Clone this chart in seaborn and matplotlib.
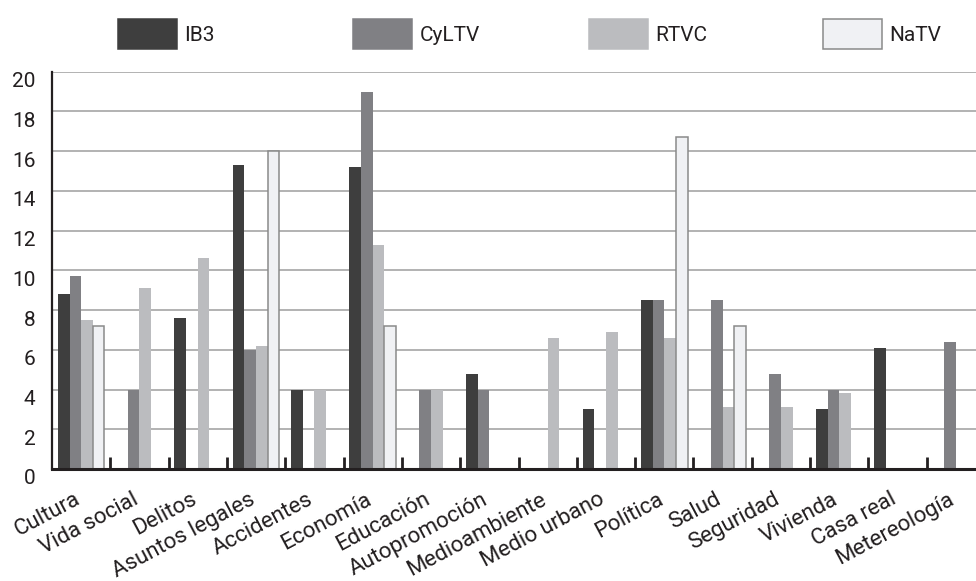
import pandas as pd
import matplotlib.pyplot as plt
import matplotlib.transforms as mtransforms
from matplotlib.patches import Patch
from matplotlib.ticker import FixedLocator
import seaborn as sns

# --- data ---
temas = ["Cultura", "Vida social", "Delitos", "Asuntos legales", "Accidentes",
         "Economía", "Educación", "Autopromoción", "Medioambiente", "Medio urbano",
         "Política", "Salud", "Seguridad", "Vivienda", "Casa real", "Metereología"]
canales = ["IB3", "CyLTV", "RTVC", "NaTV"]
ib3 = [8.8, 0, 7.6, 15.3, 4, 15.2, 0, 4.8, 0, 3.0, 8.5, 0, 0, 3.0, 6.1, 0]
cyltv = [9.7, 4, 0, 6, 0, 19, 4, 4, 0, 0, 8.5, 8.5, 4.8, 4, 0, 6.4]
rtvc = [7.5, 9.1, 10.6, 6.2, 4, 11.3, 4, 0, 6.6, 6.9, 6.6, 3.1, 3.1, 3.8, 0, 0]
natv = [7.2, 0, 0, 16, 0, 7.2, 0, 0, 0, 0, 16.7, 7.2, 0, 0, 0, 0]
yticks = list(range(0, 21, 2))

colores = ["#3e3e3e", "#808084", "#bbbcbf", "#f0f1f4"]
texto = "#231f20"

df = pd.DataFrame({"tema": temas * 4,
                   "canal": [c for c in canales for _ in temas],
                   "valor": ib3 + cyltv + rtvc + natv})

sns.set_theme(style="white")
plt.rcParams["font.family"] = ["Roboto", "DejaVu Sans"]

fig = plt.figure(figsize=(9.76, 5.81), dpi=100)
ax = fig.add_axes([0.0533, 0.1928, 0.9559, 0.6838])

sns.barplot(data=df, x="tema", y="valor", hue="canal", order=temas, hue_order=canales,
            palette=colores, width=0.8, saturation=1, legend=False, ax=ax)

for i, cont in enumerate(ax.containers):
    for bar in cont:
        if canales[i] == "NaTV":
            bar.set_edgecolor("#8a8a8a")
            bar.set_linewidth(1.1)
        else:
            bar.set_edgecolor("none")

ax.set_xlim(-0.5, len(temas) - 0.5)
ax.set_ylim(0, 20)
ax.set_yticks(yticks)
ax.set_xlabel("")
ax.set_ylabel("")

ax.yaxis.grid(True, color="#adadad", linewidth=1.3)
ax.set_axisbelow(True)
for s in ["top", "right"]:
    ax.spines[s].set_visible(False)
ax.spines["left"].set_color(texto)
ax.spines["left"].set_linewidth(1.6)
ax.spines["bottom"].set_color(texto)
ax.spines["bottom"].set_linewidth(2.2)

# small separator ticks between the groups
ax.xaxis.set_minor_locator(FixedLocator([k + 0.5 for k in range(len(temas))]))
ax.tick_params(axis="x", which="minor", direction="in", length=9, width=2,
               color=texto, bottom=True)
ax.tick_params(axis="x", which="major", length=0, pad=24.5)
ax.tick_params(axis="y", length=0, pad=12, labelsize=15, labelcolor=texto)

ax.set_xticks(range(len(temas)))
ax.set_xticklabels(temas, rotation=28, ha="right", va="baseline", rotation_mode="anchor",
                   fontsize=16, color=texto)

offset = mtransforms.ScaledTranslation(0, -8 / 100, fig.dpi_scale_trans)
for lab in ax.get_yticklabels():
    lab.set_transform(lab.get_transform() + offset)

# legend: one fixed slot per channel, as in the original
xs_leg = [0.1209, 0.3617, 0.6035, 0.8432]
for i, c in enumerate(canales):
    h = Patch(facecolor=colores[i],
              edgecolor="#8a8a8a" if c == "NaTV" else colores[i], linewidth=1.1)
    fig.legend(handles=[h], labels=[c], loc="center left",
               bbox_to_anchor=(xs_leg[i], 0.9415), frameon=False, fontsize=15,
               handlelength=2.83, handleheight=1.83, handletextpad=0.35,
               borderpad=0, borderaxespad=0, labelcolor=texto)

fig.savefig("out.png", dpi=100, facecolor="white")
